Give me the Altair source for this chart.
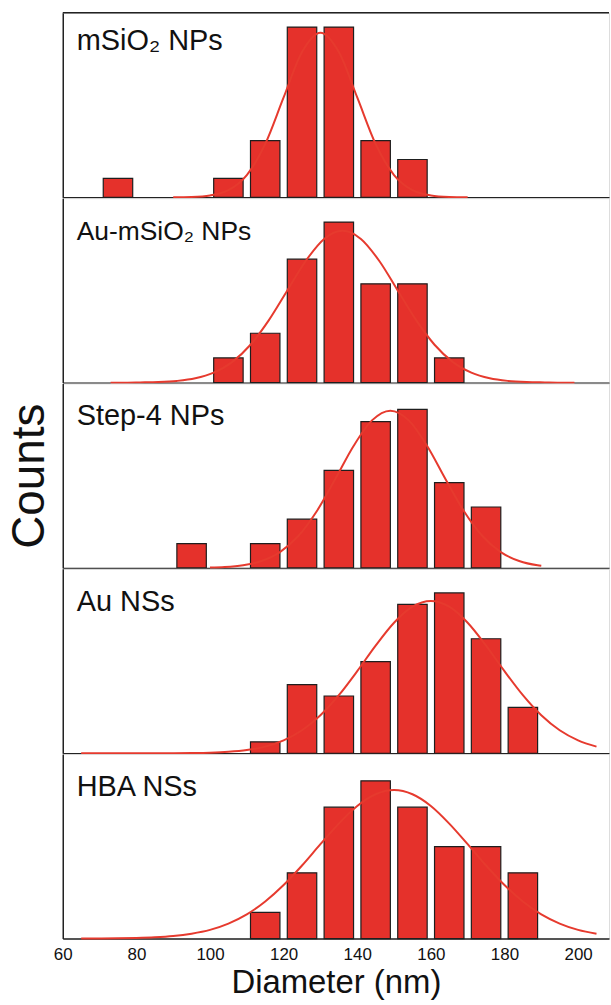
import altair as alt
import pandas as pd

# ---------------- data ----------------
names = ["mSiO₂ NPs", "Au-mSiO₂ NPs", "Step-4 NPs", "Au NSs", "HBA NSs"]

# histogram bin centres (nm) and counts
p1_centers = [75, 105, 115, 125, 135, 145, 155]
p1_counts = [1, 1, 3, 9, 9, 3, 2]
p2_centers = [105, 115, 125, 135, 145, 155, 165]
p2_counts = [2, 4, 10, 13, 8, 8, 2]
p3_centers = [95, 115, 125, 135, 145, 155, 165, 175]
p3_counts = [2, 2, 4, 8, 12, 13, 7, 5]
p4_centers = [115, 125, 135, 145, 155, 165, 175, 185]
p4_counts = [1, 6, 5, 8, 13, 14, 10, 4]
p5_centers = [115, 125, 135, 145, 155, 165, 175, 185]
p5_counts = [2, 5, 10, 12, 10, 7, 7, 5]

# fitted distribution curves
p1_fit_x = [90, 95, 100, 105, 110, 115, 120, 125, 130, 135, 140, 145, 150, 155, 160, 165, 170]
p1_fit_y = [0.0, 0.02, 0.10, 0.38, 1.18, 2.82, 5.28, 7.68, 8.7, 7.68, 5.28, 2.82, 1.18, 0.38, 0.10, 0.02, 0.0]

p2_fit_x = [73, 76, 81, 86, 91, 96, 101, 106, 111, 116, 121, 126, 131, 136, 141, 146, 151, 156, 161, 166, 171, 176, 181, 186, 191, 196, 199]
p2_fit_y = [0.0, 0.0, 0.02, 0.05, 0.14, 0.35, 0.81, 1.66, 3.07, 5.06, 7.46, 9.85, 11.64, 12.3, 11.64, 9.85, 7.46, 5.06, 3.07, 1.66, 0.81, 0.35, 0.14, 0.05, 0.02, 0.0, 0.0]

p3_fit_x = [100, 104, 109, 114, 119, 124, 129, 134, 139, 144, 149, 154, 159, 164, 169, 174, 179, 184, 189, 190]
p3_fit_y = [0.03, 0.07, 0.22, 0.57, 1.30, 2.62, 4.65, 7.27, 10.0, 12.1, 12.9, 12.1, 10.0, 7.27, 4.65, 2.62, 1.30, 0.57, 0.22, 0.18]

p4_fit_x = [65, 70, 75, 80, 85, 90, 95, 100, 105, 110, 115, 120, 125, 130, 135, 140, 145, 150, 155, 160, 165, 170, 175, 180, 185, 190, 195, 200, 205]
p4_fit_y = [0.0, 0.0, 0.0, 0.0, 0.002, 0.007, 0.02, 0.05, 0.125, 0.28, 0.58, 1.13, 2.01, 3.32, 5.07, 7.17, 9.40, 11.4, 12.8, 13.3, 12.8, 11.4, 9.40, 7.17, 5.07, 3.32, 2.01, 1.13, 0.58]

p5_fit_x = [65, 70, 75, 80, 85, 90, 95, 100, 105, 110, 115, 120, 125, 130, 135, 140, 145, 150, 155, 160, 165, 170, 175, 180, 185, 190, 195, 200, 205]
p5_fit_y = [0.003, 0.008, 0.019, 0.044, 0.094, 0.19, 0.37, 0.66, 1.14, 1.84, 2.82, 4.07, 5.56, 7.18, 8.75, 10.09, 10.98, 11.3, 10.98, 10.09, 8.75, 7.18, 5.56, 4.07, 2.82, 1.84, 1.14, 0.66, 0.37]

# y-axis upper limit of each panel (counts)
y_max = [9.75, 14.94, 15.13, 16.11, 14.04]

x_ticks = [60, 70, 80, 90, 100, 110, 120, 130, 140, 150, 160, 170, 180, 190, 200]
x_domain = [60, 208.4]

# ---------------- styling ----------------
W = 548.3
H = 185.2
BAR_FILL = "#E5312B"
BAR_EDGE = "#1e1e1e"
CURVE = "#E63A2E"
FONT = "Liberation Sans"
LINE = "#222222"
LABEL_Y = [37, 42, 42, 42, 42]
LABEL_SIZE = [29, 26.5, 29, 29, 29]

panels_data = [
    (p1_centers, p1_counts, p1_fit_x, p1_fit_y),
    (p2_centers, p2_counts, p2_fit_x, p2_fit_y),
    (p3_centers, p3_counts, p3_fit_x, p3_fit_y),
    (p4_centers, p4_counts, p4_fit_x, p4_fit_y),
    (p5_centers, p5_counts, p5_fit_x, p5_fit_y),
]


def make_panel(i):
    centers, counts, fx, fy = panels_data[i]
    bottom = i == len(panels_data) - 1
    bars_df = pd.DataFrame({"c": centers, "n": counts})
    fit_df = pd.DataFrame({"x": fx, "y": fy})
    xscale = alt.Scale(domain=x_domain, nice=False, zero=False)
    yscale = alt.Scale(domain=[0, y_max[i]], nice=False)

    if bottom:
        xaxis = alt.Axis(
            values=x_ticks,
            labelExpr="datum.value % 20 == 0 ? datum.label : ''",
            grid=False,
            domainColor=LINE,
            domainWidth=1.5,
            tickColor=LINE,
            tickWidth=1.2,
            tickSize=4,
            tickOpacity={"condition": {"test": "datum.value % 20 == 0", "value": 0}, "value": 1},
            labelFontSize=17,
            labelFont=FONT,
            labelColor="#111111",
            labelPadding=4,
            labelFlush=False,
            title="Diameter (nm)",
            titleFontSize=33,
            titleFont=FONT,
            titleFontWeight="normal",
            titleColor="#111111",
            titlePadding=4,
        )
    else:
        xaxis = alt.Axis(labels=False, ticks=False, grid=False, title=None,
                         domainColor=LINE, domainWidth=1.5)

    if i == 2:
        yaxis = alt.Axis(labels=False, ticks=False, grid=False, title="Counts",
                         domainColor=LINE, domainWidth=1.5,
                         titleFontSize=46, titleFont=FONT, titleFontWeight="normal",
                         titleColor="#111111", titlePadding=9)
    else:
        yaxis = alt.Axis(labels=False, ticks=False, grid=False, title=None,
                         domainColor=LINE, domainWidth=1.5)

    bars = alt.Chart(bars_df).transform_calculate(
        lo="datum.c - 4", hi="datum.c + 4"
    ).mark_rect(fill=BAR_FILL, stroke=BAR_EDGE, strokeWidth=1.2).encode(
        x=alt.X("lo:Q", scale=xscale, axis=xaxis),
        x2="hi:Q",
        y=alt.Y("n:Q", scale=yscale, axis=yaxis),
        y2=alt.datum(0),
    )

    curve = alt.Chart(fit_df).mark_line(
        color=CURVE, strokeWidth=2, interpolate="monotone"
    ).encode(
        x=alt.X("x:Q", scale=xscale),
        y=alt.Y("y:Q", scale=yscale),
    )

    label = alt.Chart(pd.DataFrame({"t": [names[i]]})).mark_text(
        align="left", baseline="alphabetic", fontSize=LABEL_SIZE[i], font=FONT, color="#111111"
    ).encode(x=alt.value(14), y=alt.value(LABEL_Y[i]), text="t:N")

    layers = [bars, curve, label]
    if i == 0:
        top = alt.Chart(pd.DataFrame({"t": [0]})).mark_rule(
            color=LINE, strokeWidth=1.5
        ).encode(x=alt.value(0), x2=alt.value(W), y=alt.value(0))
        layers.append(top)

    return alt.layer(*layers).properties(width=W, height=H)


chart = alt.vconcat(
    *[make_panel(i) for i in range(5)], spacing=0, bounds="flush"
).properties(
    padding={"left": 6, "top": 9, "right": 0, "bottom": 4}
).configure_view(stroke=None).configure(font=FONT, background="white")

chart.save("out.html", embed_options={"renderer": "svg", "actions": False})
